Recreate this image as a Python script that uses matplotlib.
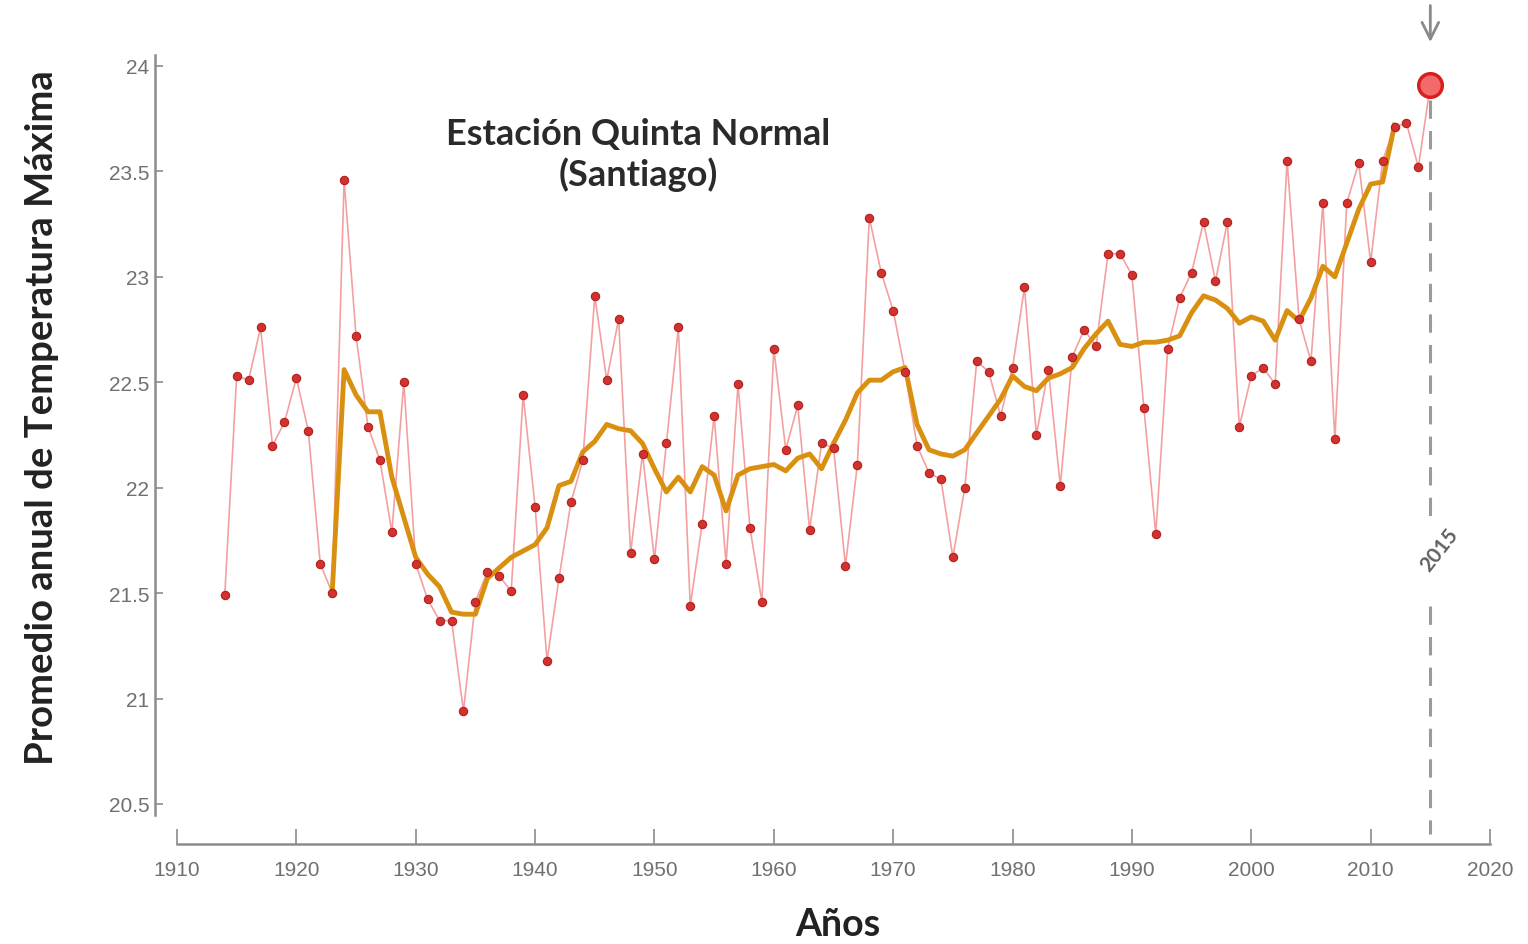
import matplotlib
matplotlib.use('Agg')
import matplotlib.pyplot as plt
import numpy as np

# annual mean of max temperature, Quinta Normal (Santiago)
years = np.arange(1914, 2016)
temps = [21.49, 22.53, 22.51, 22.76, 22.20, 22.31, 22.52, 22.27, 21.64, 21.50,
         23.46, 22.72, 22.29, 22.13, 21.79, 22.50, 21.64, 21.47, 21.37, 21.37,
         20.94, 21.46, 21.60, 21.58, 21.51, 22.44, 21.91, 21.18, 21.57, 21.93,
         22.13, 22.91, 22.51, 22.80, 21.69, 22.16, 21.66, 22.21, 22.76, 21.44,
         21.83, 22.34, 21.64, 22.49, 21.81, 21.46, 22.66, 22.18, 22.39, 21.80,
         22.21, 22.19, 21.63, 22.11, 23.28, 23.02, 22.84, 22.55, 22.20, 22.07,
         22.04, 21.67, 22.00, 22.60, 22.55, 22.34, 22.57, 22.95, 22.25, 22.56,
         22.01, 22.62, 22.75, 22.67, 23.11, 23.11, 23.01, 22.38, 21.78, 22.66,
         22.90, 23.02, 23.26, 22.98, 23.26, 22.29, 22.53, 22.57, 22.49, 23.55,
         22.80, 22.60, 23.35, 22.23, 23.35, 23.54, 23.07, 23.55, 23.71, 23.73,
         23.52, 23.91]

# smoothed curve
smooth_years = np.arange(1923, 2013)
smooth = [21.50, 22.56, 22.44, 22.36, 22.36, 22.05, 21.86, 21.67, 21.59, 21.53,
          21.41, 21.40, 21.40, 21.57, 21.62, 21.67, 21.70, 21.73, 21.81, 22.01,
          22.03, 22.17, 22.22, 22.30, 22.28, 22.27, 22.21, 22.09, 21.98, 22.05,
          21.98, 22.10, 22.06, 21.89, 22.06, 22.09, 22.10, 22.11, 22.08, 22.14,
          22.16, 22.09, 22.21, 22.32, 22.45, 22.51, 22.51, 22.55, 22.57, 22.30,
          22.18, 22.16, 22.15, 22.18, 22.26, 22.34, 22.42, 22.53, 22.48, 22.46,
          22.52, 22.54, 22.57, 22.66, 22.73, 22.79, 22.68, 22.67, 22.69, 22.69,
          22.70, 22.72, 22.83, 22.91, 22.89, 22.85, 22.78, 22.81, 22.79, 22.70,
          22.84, 22.79, 22.90, 23.05, 23.00, 23.16, 23.32, 23.44, 23.45, 23.72]

xticks = np.arange(1910, 2021, 10)
yticks = [20.5, 21, 21.5, 22, 22.5, 23, 23.5, 24]
ytick_labels = ['20.5', '21', '21.5', '22', '22.5', '23', '23.5', '24']

fig = plt.figure(figsize=(15.28, 9.45), dpi=100)
ax = fig.add_axes([177/1528, 1 - 805/945, (1490 - 177)/1528, (805 - 67)/945])

ax.plot(years, temps, '-', color='#f4a0a0', lw=1.2, zorder=2)
ax.plot(years[:-1], temps[:-1], 'o', color='#d2322d', ms=6, mec='#b02020', mew=0.8, zorder=4)
ax.plot(smooth_years, smooth, '-', color='#d99010', lw=3.5, zorder=3)
ax.plot(years[-1], temps[-1], 'o', ms=17, mfc='#f26a6a', mec='#d62020', mew=2.5, zorder=5,
        clip_on=False)

# 2015 marker line, label and arrow
gray = '#9a9a9a'
ax.plot([2015, 2015], [23.84, 21.73 + 0.12], ls=(0, (6, 4)), color=gray, lw=2.2, clip_on=False, zorder=1)
ax.plot([2015, 2015], [21.44, 20.36], ls=(0, (6, 4)), color=gray, lw=2.2, clip_on=False, zorder=1)
ax.text(2015.8, 21.71, '2015', rotation=52, ha='center', va='center', fontsize=15,
        color='#606060', family='Lato', fontweight='bold')
ax.annotate('', xy=(2015, 24.1), xytext=(2015, 24.3), annotation_clip=False,
            arrowprops=dict(arrowstyle='->', color='#8a8a8a', lw=2, mutation_scale=30))

ax.set_xlim(1910, 2020)
ax.set_ylim(20.5, 24)
ax.set_xticks(xticks)
ax.set_yticks(yticks)
ax.set_yticklabels(ytick_labels)

for spine in ['top', 'right']:
    ax.spines[spine].set_visible(False)
ax.spines['left'].set_position(('outward', 16))
ax.spines['bottom'].set_position(('outward', 29))
ax.spines['left'].set_bounds(20.45, 24.05)
ax.spines['bottom'].set_bounds(1910, 2020)
for spine in ['left', 'bottom']:
    ax.spines[spine].set_color('#8c8c8c')
    ax.spines[spine].set_linewidth(1.8)

ax.tick_params(axis='y', direction='in', length=6, width=1.2, color='#8c8c8c',
               labelsize=15, labelcolor='#707070', pad=4)
ax.tick_params(axis='x', direction='in', length=11, width=1.2, color='#8c8c8c',
               labelsize=15, labelcolor='#707070', pad=11)
for lab in ax.get_xticklabels() + ax.get_yticklabels():
    lab.set_family('Liberation Sans')

fig.text(638/1528, 1 - 155/945, 'Estación Quinta Normal\n(Santiago)', ha='center', va='center',
         fontsize=26, color='#2a2a2a', family='Lato', fontweight='bold', linespacing=1.25)
fig.text(42/1528, 1 - 418/945, 'Promedio anual de Temperatura Máxima', rotation=90,
         ha='center', va='center', fontsize=27.5, color='#222222', family='Lato', fontweight='bold')
fig.text(838/1528, 1 - 925/945, 'Años', ha='center', va='center', fontsize=27,
         color='#222222', family='Lato', fontweight='bold')

fig.savefig('out.png', dpi=100)
